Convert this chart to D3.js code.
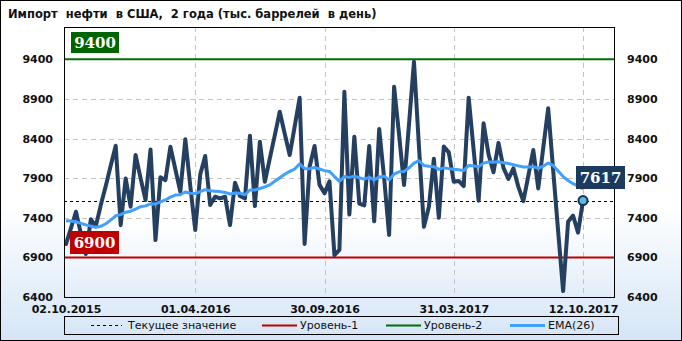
<!DOCTYPE html>
<html>
<head>
<meta charset="utf-8">
<script src="https://cdn.jsdelivr.net/npm/d3@7"></script>
<style>
  body { margin: 0; background: #fff; }
  svg { display: block; }
</style>
</head>
<body>
<svg id="chart" width="682" height="341"></svg>
<script>
// данные (тыс. баррелей в день), недельные
var imports = [
  7068, 7270, 7476, 7200, 6942, 7380, 7295, 7560, 7800, 8060,
  8310, 7307, 7897, 7540, 8192, 7900, 7624, 8263, 7118, 7910,
  7875, 8297, 8010, 7729, 8390, 7800, 7245, 7945, 8180, 7560,
  7665, 7645, 7665, 7308, 7842, 7674, 7645, 8436, 7548, 8360,
  7855, 8150, 8440, 8738, 8460, 8192, 8550, 8915, 7070, 8044,
  8305, 7815, 7708, 7860, 6929, 6995, 8990, 7440, 8423, 7578,
  7556, 8305, 7355, 8520, 7900, 7182, 9054, 8450, 7813, 8580,
  9370, 8300, 7286, 7540, 8145, 7400, 8300, 8225, 7855, 7865,
  7800, 8915, 8258, 7615, 8592, 8200, 7975, 8345, 8030, 7890,
  8024, 7790, 7610, 7930, 8255, 7771, 8280, 8781, 8000, 7230,
  6475, 7349, 7428, 7213, 7617
];
var ema = [
  7362, 7358, 7350, 7330, 7310, 7295, 7280, 7292, 7325, 7370,
  7425, 7440, 7470, 7483, 7510, 7540, 7550, 7575, 7575, 7600,
  7625, 7660, 7687, 7690, 7725, 7710, 7705, 7730, 7755, 7740,
  7735, 7730, 7720, 7700, 7712, 7710, 7690, 7750, 7750, 7770,
  7790, 7815, 7860, 7905, 7950, 7985, 8015, 8080, 8020, 8020,
  8035, 8015, 7995, 7985, 7920, 7860, 7920, 7910, 7925, 7905,
  7888, 7910, 7878, 7915, 7925, 7878, 7950, 7980, 7985, 8030,
  8090, 8120, 8060, 8050, 8045, 8010, 8030, 8020, 8012, 8005,
  7995, 8060, 8055, 8045, 8090, 8105, 8100, 8107, 8095, 8085,
  8070, 8055, 8040, 8040, 8045, 8025, 8050, 8090, 8060, 7990,
  7920, 7870, 7830, 7800, 7765
];
var tickIdx = [0, 26, 52, 78, 104];
var tickLabels = ["02.10.2015", "01.04.2016", "30.09.2016", "31.03.2017", "12.10.2017"];
var yTicks = [6400, 6900, 7400, 7900, 8400, 8900, 9400];
var level1 = 6900;
var level2 = 9400;
var current = imports[imports.length - 1];
var title = "Импорт  нефти  в США,  2 года (тыс. баррелей  в день)";
var legendNames = ["Текущее значение", "Уровень-1", "Уровень-2", "EMA(26)"];

var W = 682, H = 341;
var plot = { left: 64, top: 27, right: 614, bottom: 297 };

var svg = d3.select("#chart");
var defs = svg.append("defs");

var bg = defs.append("linearGradient").attr("id", "bg")
  .attr("x1", 0).attr("y1", 0).attr("x2", 0).attr("y2", 1);
bg.append("stop").attr("offset", "0.6").attr("stop-color", "#ffffff");
bg.append("stop").attr("offset", "1").attr("stop-color", "#d5e5f7");

var pg = defs.append("linearGradient").attr("id", "pg")
  .attr("x1", 0).attr("y1", 0).attr("x2", 0).attr("y2", 1);
pg.append("stop").attr("offset", "0.72").attr("stop-color", "#ffffff");
pg.append("stop").attr("offset", "1").attr("stop-color", "#e2edf9");

defs.append("clipPath").attr("id", "clip")
  .append("rect")
  .attr("x", plot.left).attr("y", plot.top)
  .attr("width", plot.right - plot.left).attr("height", plot.bottom - plot.top);

// фон
svg.append("rect")
  .attr("x", 0.5).attr("y", 0.5).attr("width", W - 1).attr("height", H - 1)
  .attr("fill", "url(#bg)").attr("stroke", "#000");

svg.append("text")
  .attr("x", 8).attr("y", 18)
  .attr("font-family", "DejaVu Sans").attr("font-weight", "bold").attr("font-size", 11.5)
  .attr("fill", "#111")
  .attr("xml:space", "preserve")
  .style("white-space", "pre")
  .text(title);

svg.append("rect")
  .attr("x", plot.left + 0.5).attr("y", plot.top + 0.5)
  .attr("width", plot.right - plot.left).attr("height", plot.bottom - plot.top)
  .attr("fill", "url(#pg)");

var x = d3.scaleLinear().domain([0, imports.length - 1]).range([66, 583]);
var y = d3.scaleLinear().domain([6400, 9400]).range([297, 59.3]);

var g = svg.append("g").attr("clip-path", "url(#clip)");

// сетка
g.selectAll(".hgrid")
  .data(yTicks.filter(function (d) { return d != level1 && d != level2 && d != 6400; }))
  .enter().append("line")
  .attr("x1", plot.left).attr("x2", plot.right)
  .attr("y1", function (d) { return Math.round(y(d)) + 0.5; })
  .attr("y2", function (d) { return Math.round(y(d)) + 0.5; })
  .attr("stroke", "#c4c4c4").attr("stroke-dasharray", "5,4");

g.selectAll(".vgrid")
  .data(tickIdx.slice(1))
  .enter().append("line")
  .attr("x1", function (d) { return Math.round(x(d)) + 0.5; })
  .attr("x2", function (d) { return Math.round(x(d)) + 0.5; })
  .attr("y1", plot.top).attr("y2", plot.bottom)
  .attr("stroke", "#c4c4c4").attr("stroke-dasharray", "5,4");

// уровни
g.append("line")
  .attr("x1", plot.left).attr("x2", plot.right)
  .attr("y1", y(level2)).attr("y2", y(level2))
  .attr("stroke", "#006f00").attr("stroke-width", 2);
g.append("line")
  .attr("x1", plot.left).attr("x2", plot.right)
  .attr("y1", y(level1)).attr("y2", y(level1))
  .attr("stroke", "#c00000").attr("stroke-width", 2);

// текущее значение
g.append("line")
  .attr("x1", plot.left).attr("x2", plot.right)
  .attr("y1", Math.round(y(current)) + 0.5).attr("y2", Math.round(y(current)) + 0.5)
  .attr("stroke", "#000").attr("stroke-dasharray", "3,3");

var line = d3.line()
  .x(function (d, i) { return x(i); })
  .y(function (d) { return y(d); });

g.append("path")
  .datum(imports)
  .attr("fill", "none")
  .attr("stroke", "#253f61")
  .attr("stroke-width", 4)
  .attr("stroke-linejoin", "round")
  .attr("stroke-linecap", "round")
  .attr("d", line);

g.append("path")
  .datum(ema)
  .attr("fill", "none")
  .attr("stroke", "#40a0ff")
  .attr("stroke-width", 3)
  .attr("stroke-linejoin", "round")
  .attr("d", line);

svg.append("rect")
  .attr("x", plot.left + 0.5).attr("y", plot.top + 0.5)
  .attr("width", plot.right - plot.left).attr("height", plot.bottom - plot.top)
  .attr("fill", "none").attr("stroke", "#000");

// подписи уровней
function badge(cx, cy, w, h, fill, txt) {
  svg.append("rect")
    .attr("x", cx).attr("y", cy).attr("width", w).attr("height", h)
    .attr("fill", fill);
  svg.append("text")
    .attr("x", cx + w / 2).attr("y", cy + h / 2)
    .attr("dy", "0.36em")
    .attr("text-anchor", "middle")
    .attr("font-family", "DejaVu Serif").attr("font-weight", "bold").attr("font-size", 15)
    .attr("fill", "#fff")
    .text(txt);
}
badge(71, 32, 48, 21, "#006400", level2);
badge(70, 231, 49, 23, "#c00000", level1);

var last = imports.length - 1;
svg.append("circle")
  .attr("cx", x(last)).attr("cy", y(current)).attr("r", 4.5)
  .attr("fill", "#5fb9d4").attr("stroke", "#163260").attr("stroke-width", 2);
badge(576, 166, 49, 23, "#1c3a5e", current);

// оси
function styleAxis(sel) {
  sel.select(".domain").remove();
  sel.selectAll("text")
    .attr("font-family", "DejaVu Sans").attr("font-weight", "bold").attr("font-size", 11)
    .attr("fill", "#111");
}
svg.append("g")
  .attr("transform", "translate(" + plot.left + ",0)")
  .call(d3.axisLeft(y).tickValues(yTicks).tickFormat(d3.format("d")).tickSize(0).tickPadding(11))
  .call(styleAxis);
svg.append("g")
  .attr("transform", "translate(" + plot.right + ",0)")
  .call(d3.axisRight(y).tickValues(yTicks).tickFormat(d3.format("d")).tickSize(0).tickPadding(13))
  .call(styleAxis);
svg.append("g")
  .attr("transform", "translate(0," + plot.bottom + ")")
  .call(d3.axisBottom(x).tickValues(tickIdx)
    .tickFormat(function (d, i) { return tickLabels[i]; })
    .tickSize(0).tickPadding(8))
  .call(styleAxis);

// легенда
svg.append("rect")
  .attr("x", 64.5).attr("y", 316.5).attr("width", 554).attr("height", 18)
  .attr("fill", "none").attr("stroke", "#000");
var legend = [
  { x1: 91, x2: 122, color: "#000", w: 1, dash: "3,3", tx: 128 },
  { x1: 262, x2: 297, color: "#c00000", w: 2, dash: null, tx: 300 },
  { x1: 386, x2: 421, color: "#006f00", w: 2, dash: null, tx: 424 },
  { x1: 510, x2: 545, color: "#40a0ff", w: 3, dash: null, tx: 548 }
];
legend.forEach(function (d, i) {
  svg.append("line")
    .attr("x1", d.x1).attr("x2", d.x2).attr("y1", 325.5).attr("y2", 325.5)
    .attr("stroke", d.color).attr("stroke-width", d.w)
    .attr("stroke-dasharray", d.dash);
  svg.append("text")
    .attr("x", d.tx).attr("y", 325.5).attr("dy", "0.35em")
    .attr("font-family", "DejaVu Sans").attr("font-size", 11)
    .attr("fill", "#111")
    .text(legendNames[i]);
});
</script>
</body>
</html>
